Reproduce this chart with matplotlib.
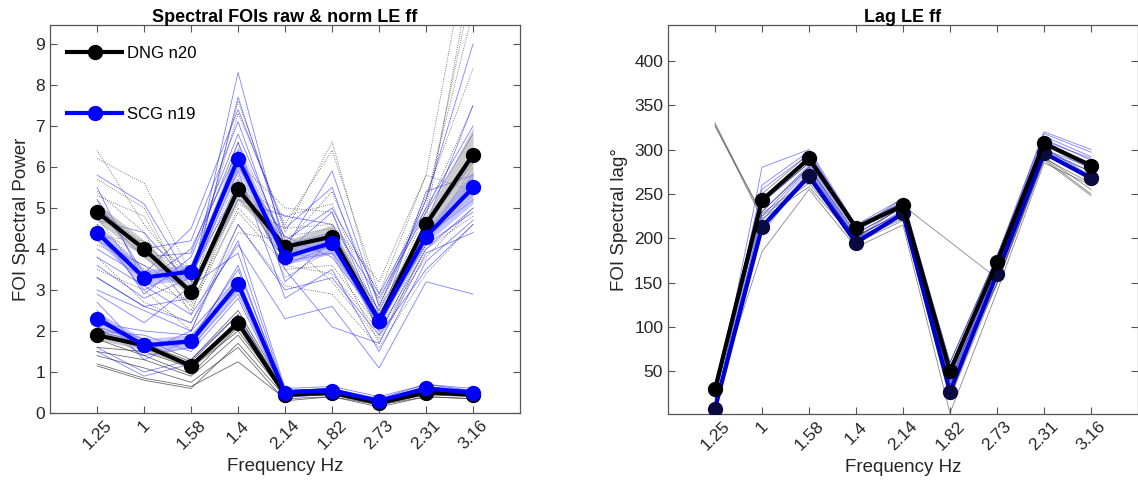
import numpy as np
import matplotlib
matplotlib.use('Agg')
import matplotlib.pyplot as plt

plt.rcParams['font.family'] = ['Liberation Sans', 'DejaVu Sans']

freqs = ['1.25', '1', '1.58', '1.4', '2.14', '1.82', '2.73', '2.31', '3.16']
nan = np.nan

# group means
raw_dng_mean = [4.9, 4.0, 2.95, 5.45, 4.05, 4.3, 2.25, 4.6, 6.3]
raw_scg_mean = [4.4, 3.3, 3.45, 6.2, 3.8, 4.15, 2.25, 4.3, 5.5]
norm_dng_mean = [1.9, 1.65, 1.15, 2.2, 0.45, 0.5, 0.25, 0.5, 0.45]
norm_scg_mean = [2.3, 1.65, 1.75, 3.15, 0.5, 0.55, 0.3, 0.6, 0.5]
lag_dng_mean = [30, 243, 290, 212, 237, 50, 173, 307, 282]
lag_scg_mean = [8, 213, 270, 195, 228, 27, 160, 296, 268]

# single subjects, raw power
raw_dng = [
    [6.4, 4.6, 3.2, 7.6, 4.4, 6.6, 2.6, 5.0, 10.5],
    [6.2, 5.6, 3.4, 7.3, 4.6, 6.4, 2.9, 5.8, 12.0],
    [5.4, 4.4, 2.4, 5.6, 4.8, 5.1, 2.3, 4.9, 7.5],
    [5.2, 3.8, 3.0, 5.1, 4.5, 4.6, 3.2, 5.8, 5.4],
    [4.8, 3.2, 2.7, 4.9, 3.6, 3.4, 2.0, 3.8, 5.0],
    [4.3, 4.2, 3.5, 6.1, 5.0, 4.9, 1.9, 4.2, 6.0],
    [3.8, 2.7, 2.2, 4.6, 3.1, 2.9, 1.6, 3.4, 4.6],
    [5.7, 5.0, 2.8, 5.4, 4.0, 4.3, 2.5, 5.2, 9.8],
    [4.6, 3.5, 3.1, 5.8, 3.5, 3.6, 2.1, 4.3, 5.3],
    [3.5, 3.0, 2.0, 4.4, 4.2, 3.2, 1.8, 4.0, 4.8],
    [5.0, 4.1, 3.3, 6.3, 3.3, 4.0, 2.4, 4.5, 6.2],
    [4.4, 3.9, 2.6, 5.2, 4.3, 4.5, 2.2, 4.7, 11.0],
    [5.3, 4.8, 2.9, 6.6, 4.1, 5.4, 2.7, 5.3, 8.4],
    [4.1, 3.6, 2.5, 5.0, 3.8, 3.9, 1.7, 4.1, 5.7],
]
raw_scg = [
    [5.8, 5.1, 3.2, 8.3, 4.0, 5.9, 2.6, 5.2, 9.0],
    [5.2, 3.4, 4.5, 7.4, 4.5, 5.5, 2.4, 4.6, 7.5],
    [4.6, 2.9, 3.8, 6.6, 3.2, 4.2, 2.0, 4.0, 5.0],
    [3.8, 3.1, 2.4, 4.1, 2.3, 2.6, 1.1, 3.2, 2.9],
    [4.2, 3.6, 3.0, 5.2, 4.8, 4.6, 2.8, 4.9, 6.8],
    [3.3, 2.6, 2.8, 5.7, 3.5, 2.1, 1.7, 3.9, 4.4],
    [5.0, 4.0, 4.2, 7.1, 3.9, 4.9, 2.2, 5.4, 5.8],
    [4.4, 3.0, 3.6, 6.0, 4.3, 3.8, 2.3, 4.1, 4.9],
    [3.0, 2.5, 2.0, 4.6, 3.0, 3.3, 1.9, 3.5, 4.6],
    [4.9, 3.8, 3.9, 6.8, 4.1, 4.4, 2.5, 4.6, 6.1],
    [4.0, 3.3, 3.4, 5.5, 3.7, 3.9, 2.4, 4.4, 5.4],
    [5.5, 3.2, 4.0, 6.4, 3.6, 4.1, 2.1, 4.3, 5.2],
    [4.7, 4.4, 3.1, 7.7, 4.2, 5.0, 2.9, 5.0, 7.0],
    [3.6, 2.8, 3.3, 5.9, 2.8, 3.5, 1.5, 3.7, 4.7],
]

# single subjects, normalised power
norm_dng = [
    [1.2, 0.85, 0.65, 1.25, 0.35, 0.4, 0.2, 0.4, 0.35],
    [1.15, 0.8, 0.6, 1.7, 0.4, 0.45, 0.2, 0.45, 0.4],
    [1.5, 1.3, 0.9, 1.9, 0.45, 0.5, 0.25, 0.5, 0.45],
    [1.6, 1.5, 1.1, 2.0, 0.5, 0.55, 0.3, 0.55, 0.5],
    [2.2, 1.8, 1.3, 2.5, 0.55, 0.6, 0.3, 0.6, 0.5],
    [1.8, 1.4, 0.95, 2.1, 0.4, 0.45, 0.2, 0.5, 0.45],
    [2.0, 1.7, 1.25, 2.4, 0.5, 0.55, 0.3, 0.6, 0.55],
    [1.4, 1.1, 0.75, 1.6, 0.3, 0.4, 0.15, 0.4, 0.35],
    [1.9, 1.6, 1.2, 2.2, 0.45, 0.5, 0.25, 0.5, 0.45],
    [2.1, 1.75, 1.05, 2.3, 0.5, 0.55, 0.3, 0.55, 0.5],
]
norm_scg = [
    [3.3, 2.6, 2.2, 4.2, 0.6, 0.65, 0.4, 0.7, 0.6],
    [2.9, 2.2, 3.1, 3.9, 0.55, 0.6, 0.35, 0.7, 0.55],
    [2.5, 1.3, 1.8, 3.5, 0.55, 0.6, 0.3, 0.65, 0.55],
    [1.6, 1.0, 1.3, 2.4, 0.4, 0.45, 0.25, 0.5, 0.4],
    [2.0, 1.9, 1.5, 2.8, 0.45, 0.5, 0.3, 0.55, 0.45],
    [2.7, 1.5, 2.0, 3.3, 0.5, 0.55, 0.3, 0.6, 0.5],
    [1.5, 0.9, 1.2, 2.2, 0.4, 0.5, 0.25, 0.5, 0.45],
    [2.2, 2.0, 1.9, 3.0, 0.55, 0.6, 0.3, 0.65, 0.5],
    [2.4, 1.6, 1.7, 3.6, 0.5, 0.55, 0.3, 0.6, 0.5],
    [2.1, 1.4, 1.6, 2.9, 0.5, 0.55, 0.3, 0.6, 0.5],
]

# single subjects, lag in degrees
lag_dng = [
    [330, 225, 262, 200, 225, 40, 150, 290, 250],
    [328, 222, 258, 198, 222, 35, 148, 288, 248],
    [326, 228, 265, 203, 228, 45, 155, 292, 255],
    [20, 185, 255, 190, 215, 3, 140, 285, 260],
    [25, 240, 285, 210, 245, 55, 170, 300, 275],
    [35, 250, 295, 215, 240, 60, 180, 310, 280],
    [15, 205, 275, 200, 237, nan, 155, 295, 265],
    [30, 230, 280, 205, 235, 30, 165, 298, 270],
    [10, 215, 270, 195, 220, 20, 150, 290, 262],
    [28, 245, 288, 212, 240, 48, 175, 305, 278],
]
lag_scg = [
    [15, 280, 300, 215, 245, 60, 180, 320, 300],
    [10, 255, 295, 210, 240, 55, 178, 318, 297],
    [5, 240, 285, 205, 235, 40, 170, 310, 290],
    [12, 225, 280, 200, 232, 35, 168, 305, 285],
    [8, 215, 275, 198, 228, 30, 165, 300, 280],
    [3, 210, 270, 195, 225, 25, 160, 298, 275],
    [18, 260, 298, 212, 242, 50, 175, 315, 292],
    [6, 230, 282, 202, 230, 38, 168, 308, 283],
    [10, 245, 290, 208, 238, 45, 172, 312, 288],
    [4, 220, 278, 199, 226, 28, 162, 302, 270],
]

x = np.arange(1, len(freqs) + 1)
grey_col = '#3a3a3a'
blue_col = '#0000ff'


def draw_subjects(ax, rows, color, ls, alpha):
    for r in rows:
        r = np.asarray(r, dtype=float)
        ok = ~np.isnan(r)
        ax.plot(x[ok], r[ok], color=color, lw=0.6, ls=ls, alpha=alpha, zorder=2)


def draw_mean(ax, m, rows, color, mcolor, label=None, band=True):
    m = np.asarray(m, dtype=float)
    if band:
        sem = np.nanstd(np.asarray(rows, dtype=float), axis=0) / np.sqrt(len(rows))
        fc = '#9a9a9a' if color == 'black' else '#8c8cff'
        ax.fill_between(x, m - sem, m + sem, color=fc, alpha=0.5, lw=0, zorder=3)
    ax.plot(x, m, color=color, lw=3, marker='o', ms=10, mfc=mcolor, mec=mcolor,
            label=label, zorder=4)


def style_axes(ax, ylim, yticks):
    ax.set_xlim(0, 10)
    ax.set_ylim(*ylim)
    ax.set_xticks(x)
    ax.set_xticklabels(freqs, rotation=45, fontsize=12.5)
    ax.set_yticks(yticks)
    ax.tick_params(direction='in', top=True, right=True, length=5, color='#555555',
                   labelsize=12.5, labelcolor='#262626')
    for s in ax.spines.values():
        s.set_color('#555555')
        s.set_linewidth(0.9)
    ax.set_xlabel('Frequency Hz', fontsize=13.5, color='#262626')


fig = plt.figure(figsize=(11.38, 4.86), dpi=100)
ax1 = fig.add_axes([0.044, 0.150, 0.413, 0.798])
ax2 = fig.add_axes([0.587, 0.148, 0.413, 0.800])

# left panel: raw and normalised power
draw_subjects(ax1, raw_dng, grey_col, ':', 0.85)
draw_subjects(ax1, raw_scg, blue_col, '-', 0.5)
draw_subjects(ax1, norm_dng, grey_col, '-', 0.75)
draw_subjects(ax1, norm_scg, blue_col, '-', 0.5)
draw_mean(ax1, raw_dng_mean, raw_dng, 'black', 'black', 'DNG n20')
draw_mean(ax1, raw_scg_mean, raw_scg, blue_col, blue_col, 'SCG n19')
draw_mean(ax1, norm_dng_mean, norm_dng, 'black', 'black')
draw_mean(ax1, norm_scg_mean, norm_scg, blue_col, blue_col)
style_axes(ax1, (0, 9.45), range(0, 10))
ax1.set_ylabel('FOI Spectral Power', fontsize=13.5, color='#262626', labelpad=4)
ax1.set_title('Spectral FOIs raw & norm LE ff', fontsize=13, fontweight='bold', pad=2)
ax1.legend(loc='upper left', bbox_to_anchor=(0.005, 0.985), frameon=False,
           fontsize=12, labelspacing=2.75, handlelength=3.3, handletextpad=0.3)

# right panel: lag
draw_subjects(ax2, lag_dng, grey_col, '-', 0.6)
draw_subjects(ax2, lag_scg, blue_col, '-', 0.5)
draw_mean(ax2, lag_scg_mean, lag_scg, '#0000cc', '#0a0a40', band=False)
draw_mean(ax2, lag_dng_mean, lag_dng, 'black', 'black', band=False)
style_axes(ax2, (2, 440), range(50, 401, 50))
ax2.set_ylabel('FOI Spectral lag°', fontsize=13.5, color='#262626', labelpad=4)
ax2.set_title('Lag LE ff', fontsize=13, fontweight='bold', pad=2)

fig.savefig('out.png', dpi=100)
